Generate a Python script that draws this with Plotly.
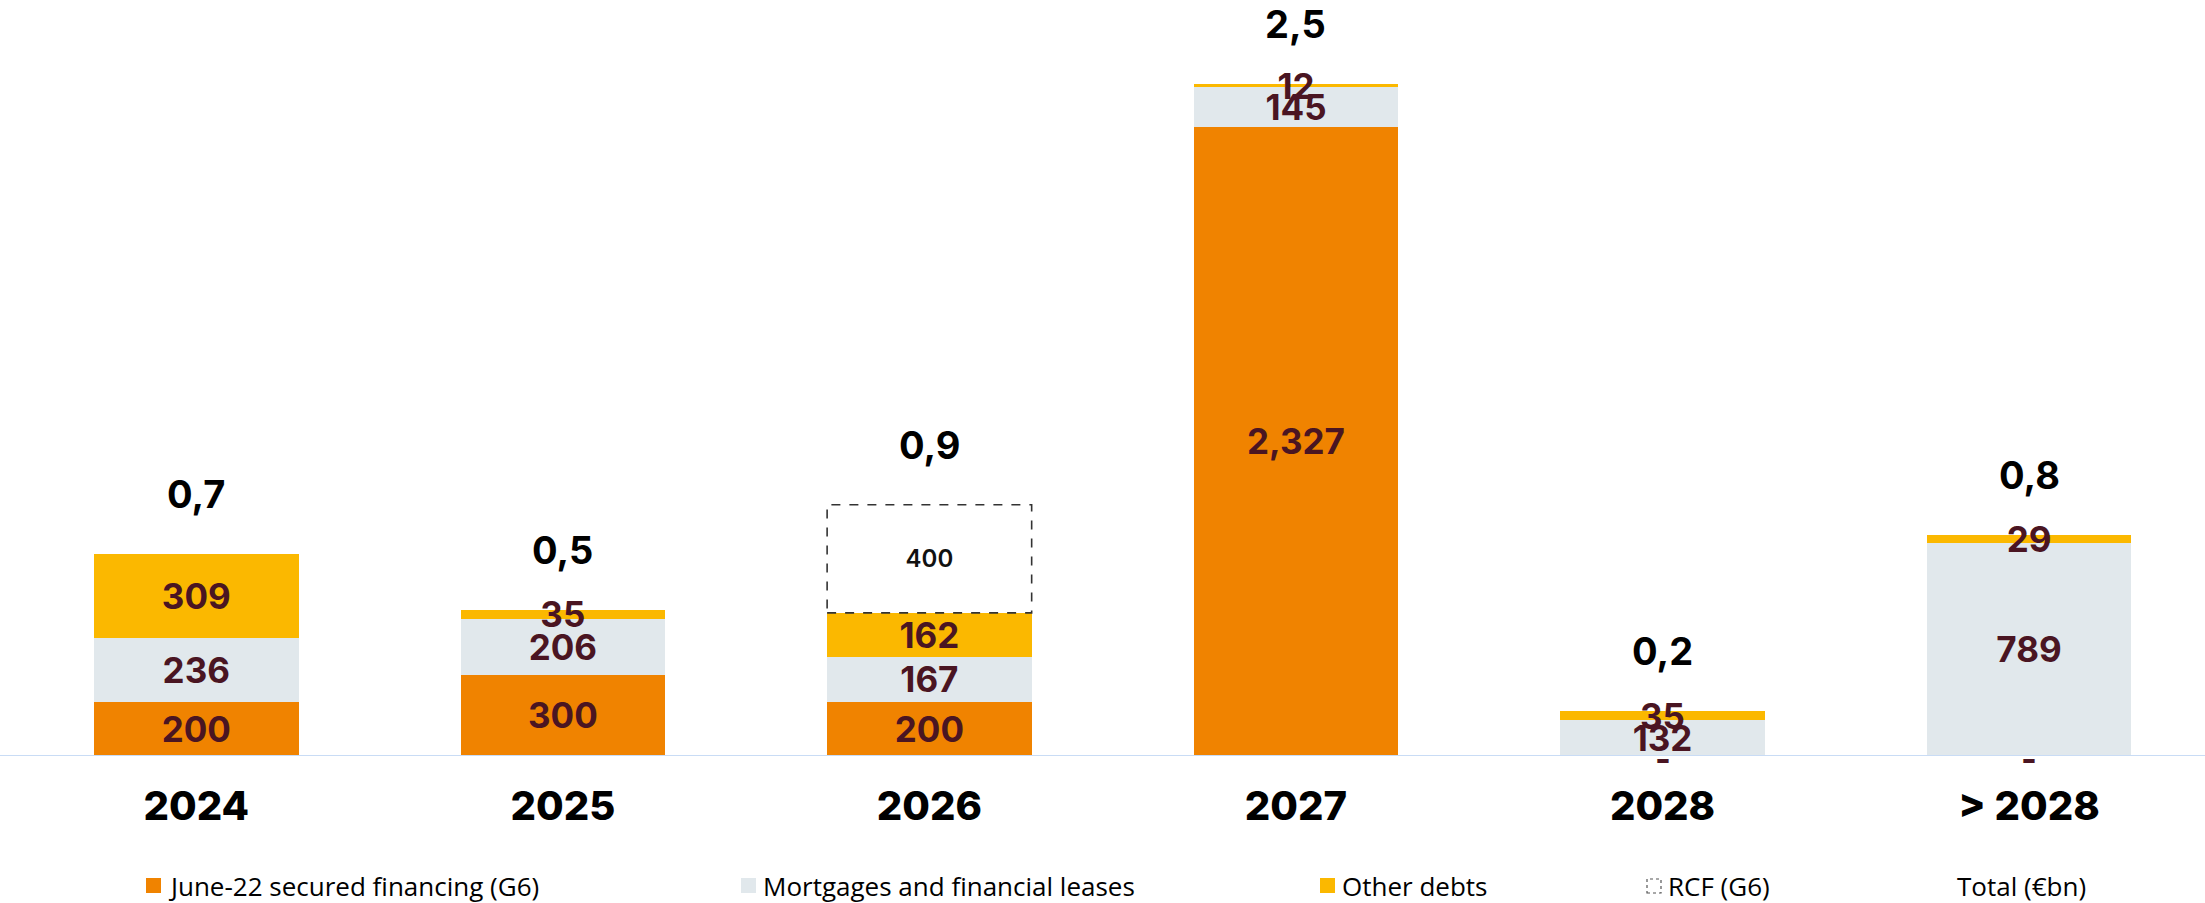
import plotly.graph_objects as go

# Debt maturity schedule (€m) by year
categories = ["2024", "2025", "2026", "2027", "2028", "> 2028"]
june22_secured = [200, 300, 200, 2327, 0, 0]
mortgages_leases = [236, 206, 167, 145, 132, 789]
other_debts = [309, 35, 162, 12, 35, 29]
rcf_g6 = [0, 0, 400, 0, 0, 0]

legend_labels = ["June-22 secured financing (G6)", "Mortgages and financial leases",
                 "Other debts", "RCF (G6)", "Total (€bn)"]

ORANGE = "#F08300"
GREY = "#E1E8EC"
YELLOW = "#FBB800"
MAROON = "#4A1522"
AXIS_BLUE = "#C9DCF5"

NUM_FONT = "Inter"
LEGEND_FONT = "Open Sans"
W, H = 2205, 903
M_L, M_R, M_T, M_B = 13, 0, 0, 147
BARGAP = 0.442
BAR_W = 1 - BARGAP

x = list(range(len(categories)))


def fmt(v):
    return "-" if v == 0 else f"{v:,}"


fig = go.Figure()

segments = [
    (june22_secured, ORANGE),
    (mortgages_leases, GREY),
    (other_debts, YELLOW),
]
for values, color in segments:
    fig.add_trace(go.Bar(
        x=x, y=values, marker=dict(color=color, line=dict(width=0)),
        text=[fmt(v) if v else "" for v in values],
        textposition="inside", insidetextanchor="middle", constraintext="none",
        textangle=0,
        textfont=dict(family=NUM_FONT, size=35, color=MAROON, weight=700),
        hoverinfo="skip", showlegend=False,
    ))

# RCF: undrawn facility, dashed outline on top of the stack
fig.add_trace(go.Bar(
    x=x, y=[v if v else None for v in rcf_g6],
    marker=dict(color="rgba(255,255,255,0)", line=dict(width=0)),
    text=[f"{v:,}" if v else "" for v in rcf_g6],
    textposition="inside", insidetextanchor="middle", constraintext="none",
    textangle=0,
    textfont=dict(family=NUM_FONT, size=24, color="#111111", weight=600),
    hoverinfo="skip", showlegend=False,
))

stack_base = [a + b + c for a, b, c in zip(june22_secured, mortgages_leases, other_debts)]
totals = [s + r for s, r in zip(stack_base, rcf_g6)]

shapes = []
for i, r in enumerate(rcf_g6):
    if r:
        shapes.append(dict(
            type="rect", xref="x", yref="y",
            x0=i - BAR_W / 2, x1=i + BAR_W / 2,
            y0=stack_base[i], y1=stack_base[i] + r,
            line=dict(color="#333333", width=1.6, dash="dash"),
            fillcolor="rgba(0,0,0,0)", layer="above",
        ))

# baseline
shapes.append(dict(type="line", xref="paper", yref="y", x0=-0.01, x1=1.01,
                   y0=0, y1=0, line=dict(color=AXIS_BLUE, width=2), layer="above"))

annotations = []
# total in €bn above each column
for i, t in enumerate(totals):
    annotations.append(dict(
        x=i, y=t, xref="x", yref="y", yshift=60, showarrow=False,
        text=f"{t / 1000:.1f}".replace(".", ","),
        font=dict(family=NUM_FONT, size=38, color="#000000", weight=700),
        yanchor="middle", xanchor="center",
    ))

# zero-value segments shown as a dash
for i, v in enumerate(june22_secured):
    if v == 0:
        annotations.append(dict(
            x=i, y=0, xref="x", yref="y", yshift=-2, showarrow=False, text="-",
            font=dict(family=NUM_FONT, size=34, color=MAROON, weight=700),
            yanchor="middle", xanchor="center",
        ))

# legend row
plot_w = W - M_L - M_R
plot_h = H - M_T - M_B


def px_x(p):
    return (p - M_L) / plot_w


def px_y(p):
    return (H - M_B - p) / plot_h


legend_y = 886
legend_items = [
    (legend_labels[0], 146, ORANGE, None),
    (legend_labels[1], 741, GREY, None),
    (legend_labels[2], 1320, YELLOW, None),
    (legend_labels[3], 1646, None, "dash"),
]
for label, mx, color, dash in legend_items:
    if dash:
        shapes.append(dict(type="rect", xref="paper", yref="paper",
                           x0=px_x(mx + 1), x1=px_x(mx + 15),
                           y0=px_y(legend_y + 7), y1=px_y(legend_y - 7),
                           line=dict(color="#555555", width=1.2, dash="dot"),
                           fillcolor="rgba(0,0,0,0)"))
    else:
        shapes.append(dict(type="rect", xref="paper", yref="paper",
                           x0=px_x(mx), x1=px_x(mx + 15),
                           y0=px_y(legend_y + 7), y1=px_y(legend_y - 8),
                           line=dict(width=0), fillcolor=color))
    annotations.append(dict(
        x=px_x(mx + 20), y=px_y(legend_y), xref="paper", yref="paper",
        text=label, showarrow=False, xanchor="left", yanchor="middle",
        font=dict(family=LEGEND_FONT, size=26, color="#000000", weight=500),
    ))
annotations.append(dict(
    x=px_x(1955), y=px_y(legend_y), xref="paper", yref="paper",
    text=legend_labels[4], showarrow=False, xanchor="left", yanchor="middle",
    font=dict(family=LEGEND_FONT, size=26, color="#000000", weight=500),
))

fig.update_layout(
    width=W, height=H,
    margin=dict(l=M_L, r=M_R, t=M_T, b=M_B, pad=0),
    barmode="stack", bargap=BARGAP,
    plot_bgcolor="white", paper_bgcolor="white",
    xaxis=dict(
        range=[-0.5, 5.48], tickmode="array", tickvals=x, ticktext=categories,
        showgrid=False, zeroline=False, showline=False,
        ticks="outside", ticklen=15, tickcolor="rgba(0,0,0,0)",
        tickfont=dict(family=NUM_FONT, size=40, color="#000000", weight=800),
    ),
    yaxis=dict(range=[0, 2795], visible=False, showgrid=False, zeroline=False),
    shapes=shapes, annotations=annotations,
    showlegend=False,
)

fig.write_html("out.html")
